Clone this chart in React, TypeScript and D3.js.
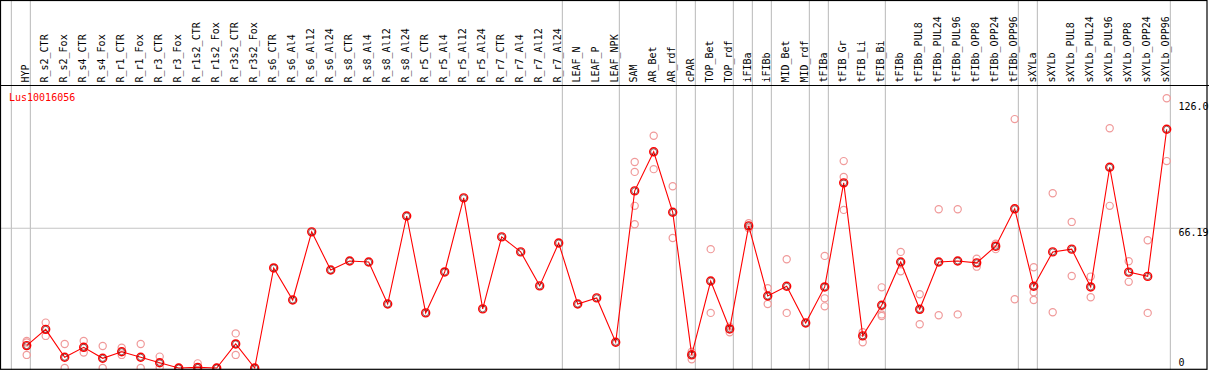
import React from 'react';
import * as d3 from 'd3';

const categories = [
  "HYP", "R_s2_CTR", "R_s2_Fox", "R_s4_CTR", "R_s4_Fox", "R_r1_CTR", "R_r1_Fox", "R_r3_CTR", "R_r3_Fox",
  "R_r1s2_CTR", "R_r1s2_Fox", "R_r3s2_CTR", "R_r3s2_Fox", "R_s6_CTR", "R_s6_Al4", "R_s6_Al12", "R_s6_Al24",
  "R_s8_CTR", "R_s8_Al4", "R_s8_Al12", "R_s8_Al24", "R_r5_CTR", "R_r5_Al4", "R_r5_Al12", "R_r5_Al24",
  "R_r7_CTR", "R_r7_Al4", "R_r7_Al12", "R_r7_Al24", "LEAF_N", "LEAF_P", "LEAF_NPK", "SAM", "AR_Bet", "AR_rdf",
  "cPAR", "TOP_Bet", "TOP_rdf", "iFIBa", "iFIBb", "MID_Bet", "MID_rdf", "tFIBa", "tFIB_Gr", "tFIB_Li", "tFIB_Bi",
  "tFIBb", "tFIBb_PUL8", "tFIBb_PUL24", "tFIBb_PUL96", "tFIBb_OPP8", "tFIBb_OPP24", "tFIBb_OPP96", "sXYLa",
  "sXYLb", "sXYLb_PUL8", "sXYLb_PUL24", "sXYLb_PUL96", "sXYLb_OPP8", "sXYLb_OPP24", "sXYLb_OPP96"
];

const means = [
  10.6, 18.3, 5.1, 9.8, 4.6, 7.7, 5.1, 2.5, 0, 0.3, 0, 11.4, 0, 47.4, 32.2, 64.5, 46.4,
  50.7, 50.2, 30.3, 72.0, 26.1, 45.5, 80.6, 28.0, 62.1, 55.0, 38.9, 59.2, 30.3, 33.2, 12.2,
  83.9, 102.4, 73.8, 6.2, 41.2, 18.5, 67.3, 34.1, 38.7, 21.3, 38.4, 87.7, 15.2, 29.7,
  50.2, 27.8, 50.2, 50.7, 49.8, 57.7, 75.4, 38.7, 55.0, 56.3, 38.4, 95.1, 45.4, 43.4, 113.1
];

const replicates: number[][] = [
  [12.8, 12.1, 6.2], [21.5, 15.2], [11.4, 0], [12.8, 7.3], [10.4, 0], [9.6, 6.2], [11.4, 0], [5.4, 0.3], [0, 0],
  [2.2, 0], [0, 0], [16.4, 6.2], [0], [], [], [], [],
  [], [], [], [], [], [], [], [],
  [], [], [], [], [], [], [],
  [97.6, 92.9, 76.8, 68.1], [110.0, 94.2], [86.1, 61.6], [7.7, 6.5, 4.1], [56.3, 26.1], [19.6, 16.9],
  [68.6, 66.2], [37.8, 30.3], [51.5, 26.1], [], [53.1, 33.0, 29.2], [98.0, 90.5, 74.9], [16.9, 12.2],
  [38.2, 25.4, 24.6], [55.0, 45.8], [34.9, 20.7], [75.2, 25.0], [75.2, 25.4], [51.8, 48.0], [58.9, 56.3],
  [117.9, 32.6], [47.7, 35.9, 32.2], [82.8, 26.4], [69.2, 43.6], [43.3, 33.5], [113.6, 76.8], [50.6, 40.8],
  [60.5, 26.1], [127.8, 98.0]
];

// group separators are drawn right after these columns
const groupEnds = ["HYP", "R_r7_Al24", "LEAF_NPK", "AR_rdf", "cPAR", "TOP_rdf", "iFIBa", "iFIBb", "MID_rdf",
  "tFIBa", "tFIB_Bi", "tFIBb_OPP96", "sXYLa", "sXYLb_OPP96"];

const yTickValues = [126.0, 66.19, 0];
const yTickLabels = ["126.0", "66.19", "0"];
const gridValue = 66.19;
const title = "Lus10016056";

const App: React.FC = () => {
  const width = 1209;
  const height = 370;
  const headerBottom = 85.5;
  const font = "'DejaVu Sans Mono', monospace";

  const xScale = d3.scalePoint<string>().domain(categories).range([26.7, 1166.7]);
  const step = xScale.step();
  const yScale = d3.scaleLinear().domain([0, 126]).range([368, 102]);

  const sepX = [xScale("HYP")! - step + 3.7, ...groupEnds.map(c => xScale(c)! + 3.7)];

  const line = d3.line<number>()
    .x((_, i) => xScale(categories[i])!)
    .y(d => yScale(d));

  return (
    <svg width={width} height={height} style={{position: 'absolute', left: 0, top: 0, background: '#fff'}}>
      {sepX.map((x, i) => (
        <line key={i} x1={x} x2={x} y1={0} y2={height} stroke="#c4c4c4" strokeWidth={1.2}/>
      ))}
      <line x1={1} x2={1207} y1={yScale(gridValue)} y2={yScale(gridValue)} stroke="#c4c4c4" strokeWidth={1.2}/>
      {categories.map(c => (
        <text key={c} transform={`translate(${xScale(c)! + 2.5}, 82.5) rotate(-90)`}
              fontFamily={font} fontSize={10} fill="#000">{c}</text>
      ))}
      <text x={9} y={100.7} fontFamily={font} fontSize={10} fill="#f00">{title}</text>
      {yTickValues.map((v, i) => (
        <text key={i} x={1178.5} y={v === 0 ? yScale(v) - 2 : yScale(v) + 7.5}
              fontFamily={font} fontSize={10} fill="#000">{yTickLabels[i]}</text>
      ))}
      {replicates.map((reps, i) => reps.map((r, j) => (
        <circle key={`${i}-${j}`} cx={xScale(categories[i])} cy={yScale(r)} r={3.6}
                fill="none" stroke="#f09a9a" strokeWidth={1.2}/>
      )))}
      <path d={line(means) || ''} fill="none" stroke="#f00" strokeWidth={1.1}/>
      {means.map((m, i) => (
        <g key={i}>
          <circle cx={xScale(categories[i])} cy={yScale(m)} r={4} fill="none" stroke="#f00" strokeWidth={1.4}/>
          <circle cx={xScale(categories[i])} cy={yScale(m)} r={3} fill="none" stroke="#400" strokeWidth={0.6}/>
        </g>
      ))}
      <line x1={0} x2={width} y1={headerBottom} y2={headerBottom} stroke="#000" strokeWidth={1.2}/>
      <rect x={0.5} y={0.5} width={1206.5} height={368.8} fill="none" stroke="#000" strokeWidth={1.2}/>
    </svg>
  );
};

export default App;
